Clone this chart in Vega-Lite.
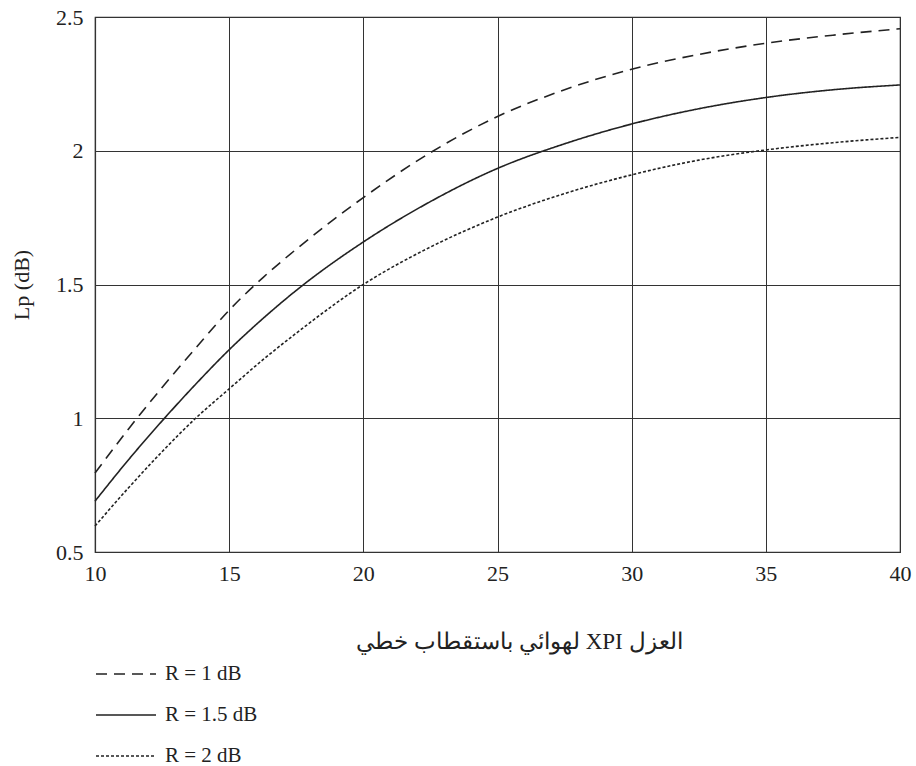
{
  "$schema": "https://vega.github.io/schema/vega-lite/v6.json",
  "width": 805,
  "height": 535,
  "autosize": "none",
  "padding": {"left": 95, "top": 17, "right": 16, "bottom": 214},
  "background": "white",
  "config": {
    "font": "Liberation Serif",
    "view": {"stroke": "#333", "strokeWidth": 1.2},
    "axis": {
      "gridColor": "#333",
      "gridOpacity": 1,
      "gridWidth": 1,
      "domainColor": "#333",
      "domainWidth": 1.2,
      "ticks": false,
      "labelFont": "Liberation Serif",
      "labelFontSize": 22,
      "labelColor": "#222",
      "titleFont": "Liberation Serif",
      "titleFontWeight": "normal",
      "titleColor": "#222"
    },
    "legend": {
      "labelFont": "Liberation Serif",
      "labelFontSize": 21,
      "labelColor": "#222"
    }
  },
  "data": {
    "values": [
      {"x": 10, "lp": 0.795, "r": "R = 1 dB"},
      {"x": 11.25, "lp": 0.96, "r": "R = 1 dB"},
      {"x": 12.5, "lp": 1.115, "r": "R = 1 dB"},
      {"x": 13.75, "lp": 1.262, "r": "R = 1 dB"},
      {"x": 15, "lp": 1.404, "r": "R = 1 dB"},
      {"x": 16.25, "lp": 1.525, "r": "R = 1 dB"},
      {"x": 17.5, "lp": 1.632, "r": "R = 1 dB"},
      {"x": 20, "lp": 1.825, "r": "R = 1 dB"},
      {"x": 22.5, "lp": 1.993, "r": "R = 1 dB"},
      {"x": 25, "lp": 2.128, "r": "R = 1 dB"},
      {"x": 27.5, "lp": 2.228, "r": "R = 1 dB"},
      {"x": 30, "lp": 2.305, "r": "R = 1 dB"},
      {"x": 32.5, "lp": 2.36, "r": "R = 1 dB"},
      {"x": 35, "lp": 2.402, "r": "R = 1 dB"},
      {"x": 37.5, "lp": 2.432, "r": "R = 1 dB"},
      {"x": 40, "lp": 2.456, "r": "R = 1 dB"},
      {"x": 10, "lp": 0.69, "r": "R = 1.5 dB"},
      {"x": 11.25, "lp": 0.845, "r": "R = 1.5 dB"},
      {"x": 12.5, "lp": 0.99, "r": "R = 1.5 dB"},
      {"x": 13.75, "lp": 1.127, "r": "R = 1.5 dB"},
      {"x": 15, "lp": 1.256, "r": "R = 1.5 dB"},
      {"x": 16.25, "lp": 1.372, "r": "R = 1.5 dB"},
      {"x": 17.5, "lp": 1.478, "r": "R = 1.5 dB"},
      {"x": 20, "lp": 1.659, "r": "R = 1.5 dB"},
      {"x": 22.5, "lp": 1.81, "r": "R = 1.5 dB"},
      {"x": 25, "lp": 1.934, "r": "R = 1.5 dB"},
      {"x": 27.5, "lp": 2.026, "r": "R = 1.5 dB"},
      {"x": 30, "lp": 2.1, "r": "R = 1.5 dB"},
      {"x": 32.5, "lp": 2.157, "r": "R = 1.5 dB"},
      {"x": 35, "lp": 2.199, "r": "R = 1.5 dB"},
      {"x": 37.5, "lp": 2.228, "r": "R = 1.5 dB"},
      {"x": 40, "lp": 2.246, "r": "R = 1.5 dB"},
      {"x": 10, "lp": 0.597, "r": "R = 2 dB"},
      {"x": 11.25, "lp": 0.74, "r": "R = 2 dB"},
      {"x": 12.5, "lp": 0.875, "r": "R = 2 dB"},
      {"x": 13.75, "lp": 1.0, "r": "R = 2 dB"},
      {"x": 15, "lp": 1.11, "r": "R = 2 dB"},
      {"x": 16.25, "lp": 1.218, "r": "R = 2 dB"},
      {"x": 17.5, "lp": 1.318, "r": "R = 2 dB"},
      {"x": 20, "lp": 1.5, "r": "R = 2 dB"},
      {"x": 22.5, "lp": 1.64, "r": "R = 2 dB"},
      {"x": 25, "lp": 1.752, "r": "R = 2 dB"},
      {"x": 27.5, "lp": 1.84, "r": "R = 2 dB"},
      {"x": 30, "lp": 1.91, "r": "R = 2 dB"},
      {"x": 32.5, "lp": 1.965, "r": "R = 2 dB"},
      {"x": 35, "lp": 2.003, "r": "R = 2 dB"},
      {"x": 37.5, "lp": 2.03, "r": "R = 2 dB"},
      {"x": 40, "lp": 2.05, "r": "R = 2 dB"}
    ]
  },
  "mark": {"type": "line", "interpolate": "monotone", "color": "#222", "strokeWidth": 1.6},
  "encoding": {
    "x": {
      "field": "x",
      "type": "quantitative",
      "scale": {"domain": [10, 40], "nice": false, "zero": false},
      "axis": {
        "values": [10, 15, 20, 25, 30, 35, 40],
        "labelPadding": 11,
        "labelFlush": false,
        "title": "\u202Bالعزل XPI لهوائي باستقطاب خطي\u202C",
        "titleFontSize": 23,
        "titleX": 424,
        "titleY": 89,
        "titleBaseline": "middle",
        "titleAnchor": "middle"
      }
    },
    "y": {
      "field": "lp",
      "type": "quantitative",
      "scale": {"domain": [0.5, 2.5], "nice": false, "zero": false},
      "axis": {
        "values": [0.5, 1, 1.5, 2, 2.5],
        "format": "~g",
        "labelPadding": 12,
        "labelFlush": false,
        "title": "Lp (dB)",
        "titleFontSize": 22,
        "titlePadding": 22
      }
    },
    "strokeDash": {
      "field": "r",
      "type": "nominal",
      "scale": {
        "domain": ["R = 1 dB", "R = 1.5 dB", "R = 2 dB"],
        "range": [[11, 7], [1, 0], [3, 2]]
      },
      "legend": {
        "title": null,
        "orient": "none",
        "legendX": 0,
        "legendY": 626,
        "symbolType": "stroke",
        "symbolSize": 3600,
        "symbolStrokeWidth": 1.6,
        "symbolStrokeColor": "#222",
        "labelOffset": 8,
        "rowPadding": -4
      }
    }
  }
}
